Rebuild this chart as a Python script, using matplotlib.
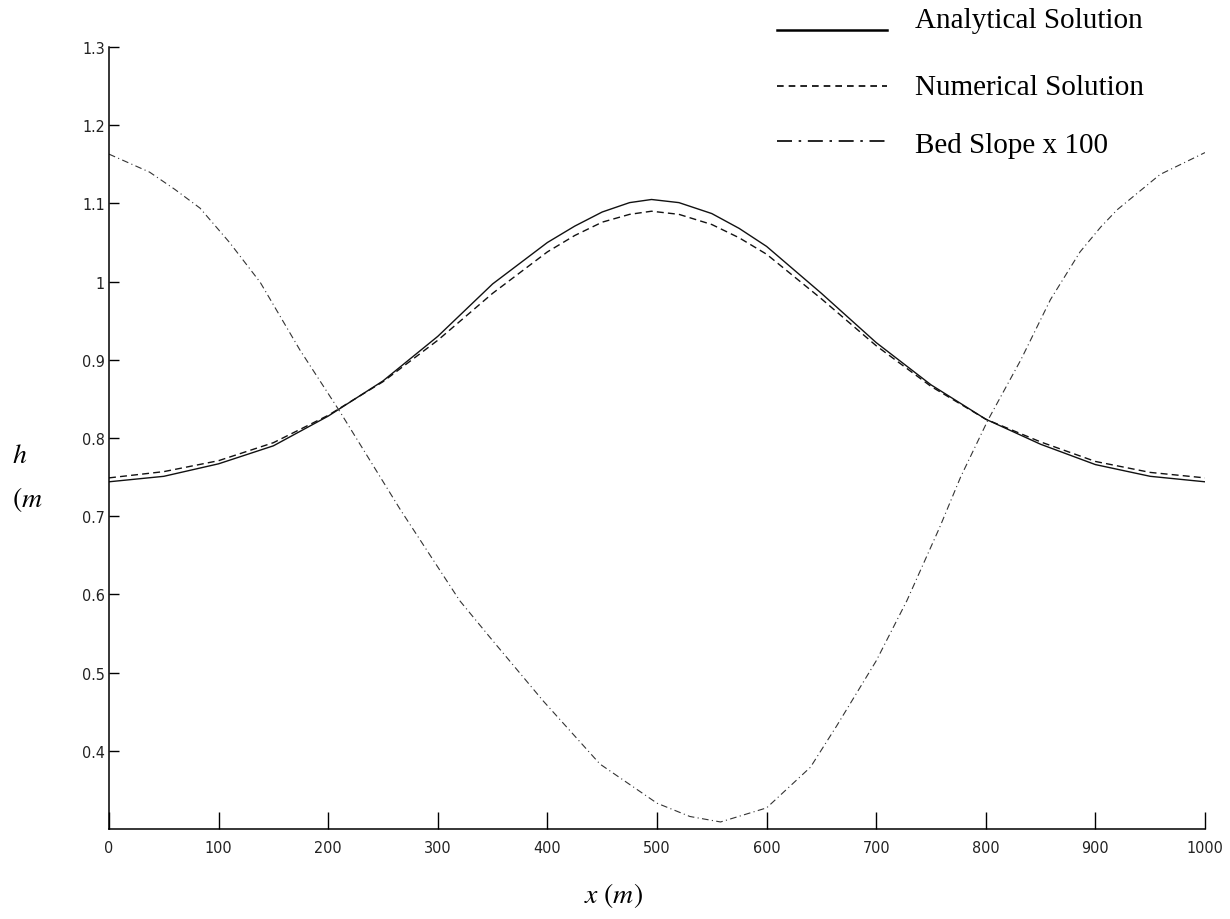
import numpy as np
import matplotlib
matplotlib.use("Agg")
import matplotlib.pyplot as plt
from matplotlib.lines import Line2D

# values
x_ana = [0, 50, 100, 150, 200, 250, 300, 350, 400, 425, 450, 475, 495, 520, 550, 575, 600, 650, 700, 750, 800, 850, 900, 950, 1000]
h_ana = [0.744, 0.751, 0.767, 0.790, 0.828, 0.873, 0.930, 0.997, 1.050, 1.071, 1.089, 1.101, 1.105, 1.101, 1.087, 1.068, 1.045, 0.985, 0.922, 0.868, 0.824, 0.792, 0.766, 0.751, 0.744]

x_num = [0, 50, 100, 150, 200, 250, 300, 350, 400, 425, 450, 475, 495, 520, 550, 575, 600, 650, 700, 750, 800, 850, 900, 950, 1000]
h_num = [0.749, 0.757, 0.771, 0.794, 0.829, 0.872, 0.925, 0.985, 1.038, 1.059, 1.076, 1.086, 1.090, 1.086, 1.073, 1.056, 1.035, 0.978, 0.918, 0.866, 0.824, 0.795, 0.770, 0.756, 0.749]

x_bed = [0, 37, 60, 83, 110, 138, 174, 211, 266, 320, 350, 396, 448, 500, 530, 558, 600, 640, 664, 700, 728, 758, 777, 802, 832, 859, 886, 905, 920, 959, 1000]
h_bed = [1.163, 1.140, 1.118, 1.094, 1.050, 0.999, 0.913, 0.833, 0.708, 0.592, 0.541, 0.464, 0.383, 0.333, 0.316, 0.309, 0.327, 0.379, 0.432, 0.515, 0.592, 0.686, 0.750, 0.823, 0.900, 0.977, 1.038, 1.070, 1.092, 1.137, 1.165]

xticks = list(range(0, 1001, 100))
yticks = [0.4, 0.5, 0.6, 0.7, 0.8, 0.9, 1.0, 1.1, 1.2, 1.3]

legend_labels = ["Analytical Solution", "Numerical Solution", "Bed Slope x 100"]

W, H = 1230, 920
fig = plt.figure(figsize=(W / 100, H / 100), dpi=100)
ax = fig.add_axes([109 / W, 1 - 830 / H, (1205 - 109) / W, (830 - 48) / H])

ax.plot(x_ana, h_ana, color="#111111", lw=1.0)
ax.plot(x_num, h_num, color="#111111", lw=1.0, dashes=(5, 3))
ax.plot(x_bed, h_bed, color="#333333", lw=0.8, dashes=(6, 3, 1, 3))

ax.set_xlim(0, 1000)
ax.set_ylim(0.3, 1.3)
ax.set_xticks(xticks)
ax.set_yticks(yticks)
ax.set_yticklabels(["%g" % t for t in yticks])
for s in ["top", "right"]:
    ax.spines[s].set_visible(False)
for s in ["left", "bottom"]:
    ax.spines[s].set_linewidth(1.1)

ax.tick_params(axis="x", direction="in", length=12, width=1, pad=8)
ax.tick_params(axis="y", direction="in", length=7, width=1, pad=3)
for lab in ax.get_xticklabels() + ax.get_yticklabels():
    lab.set_family("DejaVu Sans")
    lab.set_stretch("condensed")
    lab.set_fontsize(11.5)
    lab.set_color("#222222")

# axis labels (as in the source, the y label is cut to "h (m")
plt.rcParams["mathtext.fontset"] = "stix"
fig.text(613 / W, 1 - 896 / H, r"$x\ (m)$", ha="center", va="center", fontsize=20)
fig.text(12 / W, 1 - 455 / H, r"$h$", ha="left", va="center", fontsize=20)
fig.text(12 / W, 1 - 500 / H, r"$(m$", ha="left", va="center", fontsize=20)

# legend drawn by hand at the top right
leg_styles = [dict(lw=1.8), dict(lw=1.2, dashes=(4, 3)), dict(lw=1.2, dashes=(9, 4, 1.5, 4))]
leg_y = [31, 87, 142]
text_y = [21, 88, 146]
for lab, st, ly, ty in zip(legend_labels, leg_styles, leg_y, text_y):
    fig.add_artist(Line2D([777 / W, 887 / W], [1 - ly / H, 1 - ly / H],
                          transform=fig.transFigure, color="black", **st))
    fig.text(915 / W, 1 - ty / H, lab, ha="left", va="center",
             fontsize=21, family=["Liberation Serif", "DejaVu Serif"])

fig.savefig("out.png", dpi=100, facecolor="white")
